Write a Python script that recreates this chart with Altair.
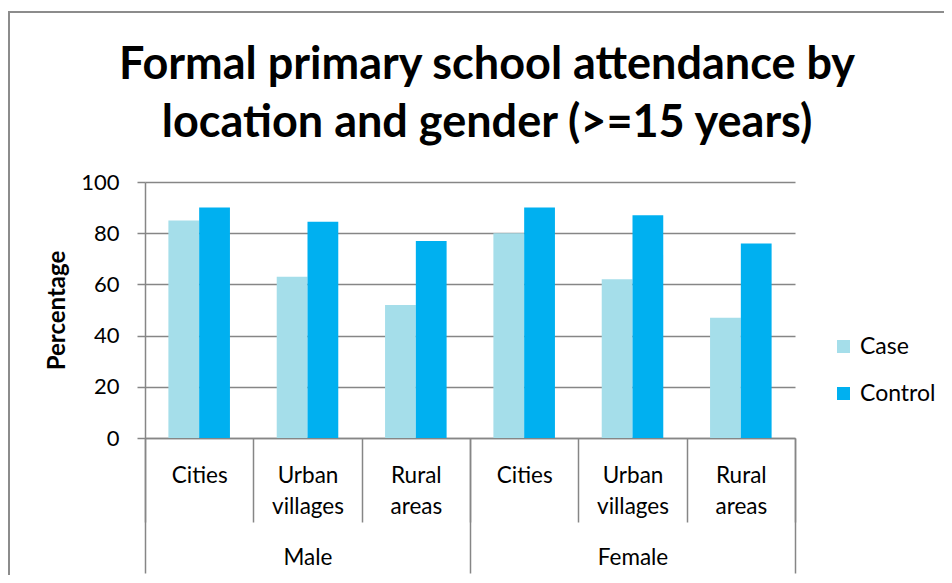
import altair as alt
import pandas as pd

genders = ["Male", "Female"]
locations = ["Cities", "Urban villages", "Rural areas"]
series = ["Case", "Control"]
case_vals = [85, 63, 52, 80, 62, 47]
control_vals = [90, 84.5, 77, 90, 87, 76]
colors = ["#A5DEEA", "#00B0F0"]

keys = [f"{g}|{loc}" for g in genders for loc in locations]
rows = []
for i, k in enumerate(keys):
    rows.append({"key": k, "series": "Case", "value": case_vals[i]})
    rows.append({"key": k, "series": "Control", "value": control_vals[i]})
df = pd.DataFrame(rows)
gdf = pd.DataFrame({"gender": genders})

FONT = "Lato"
GRAY = "#868686"

# chart-area border (decorative frame, not data); right and bottom sides fall outside the view
frame = alt.Chart(pd.DataFrame({"f": [0]})).mark_rect(
    fill=None, stroke="#8C8C8C", strokeWidth=2
).encode(
    x=alt.value(-136), x2=alt.value(1000),
    y=alt.value(-170), y2=alt.value(600),
)

bars = alt.Chart(df).mark_bar().encode(
    x=alt.X(
        "key:N",
        sort=keys,
        scale=alt.Scale(paddingInner=0, paddingOuter=0),
        axis=alt.Axis(
            title=None,
            orient="bottom",
            labelExpr="(isString(datum.value) && indexof(datum.value, '|') >= 0) ? split(split(datum.value, '|')[1], ' ') : ''",
            labelAngle=0,
            labelFontSize=22.5,
            labelFont=FONT,
            labelColor="#000000",
            labelLineHeight=31,
            labelPadding=-58,
            tickBand="extent",
            tickSize=84,
            tickColor=GRAY,
            tickWidth=1.5,
            domainColor=GRAY,
            domainWidth=1.5,
            grid=False,
        ),
    ),
    xOffset=alt.XOffset(
        "series:N", sort=series, scale=alt.Scale(paddingInner=0, paddingOuter=0.76)
    ),
    y=alt.Y(
        "value:Q",
        scale=alt.Scale(domain=[0, 100]),
        axis=alt.Axis(
            title="Percentage",
            titleFont=FONT,
            titleFontSize=24,
            titleFontWeight="bold",
            titleColor="#000000",
            titlePadding=11,
            values=[0, 20, 40, 60, 80, 100],
            labelFont=FONT,
            labelFontSize=22,
            labelColor="#000000",
            labelPadding=18,
            tickSize=8,
            tickColor=GRAY,
            tickWidth=1.5,
            domainColor=GRAY,
            domainWidth=1.5,
            gridColor=GRAY,
            gridWidth=1.5,
        ),
    ),
    color=alt.Color(
        "series:N",
        sort=series,
        scale=alt.Scale(domain=series, range=colors),
        legend=alt.Legend(
            title=None,
            orient="none",
            legendX=687,
            legendY=153,
            symbolType="square",
            symbolSize=169,
            symbolStrokeWidth=0,
            labelFont=FONT,
            labelFontSize=23,
            labelColor="#000000",
            labelOffset=5,
            rowPadding=23,
            padding=0,
        ),
    ),
)

gender_axis = alt.Chart(gdf).mark_rule(opacity=0).encode(
    x=alt.X(
        "gender:N",
        sort=genders,
        scale=alt.Scale(paddingInner=0, paddingOuter=0),
        axis=alt.Axis(
            title=None,
            orient="bottom",
            labelAngle=0,
            labelFontSize=22.5,
            labelFont=FONT,
            labelColor="#000000",
            labelPadding=-27,
            tickBand="extent",
            tickSize=135,
            tickColor=GRAY,
            tickWidth=1.5,
            domain=False,
            grid=False,
        ),
    )
)

chart = (
    alt.layer(frame, bars, gender_axis)
    .resolve_scale(x="independent")
    .properties(
        width=650,
        height=256,
        autosize=alt.AutoSizeParams(type="none"),
        padding={"left": 137, "top": 174, "right": 149, "bottom": 137},
        title=alt.TitleParams(
            text=["Formal primary school attendance by", "location and gender (>=15 years)"],
            font=FONT,
            fontSize=45,
            fontWeight="bold",
            color="#000000",
            anchor="middle",
            frame="group",
            dx=17,
            lineHeight=58,
            offset=-135,
        ),
    )
    .configure_view(stroke=None)
)

chart.save("out.html", embed_options={"renderer": "svg", "actions": False})
